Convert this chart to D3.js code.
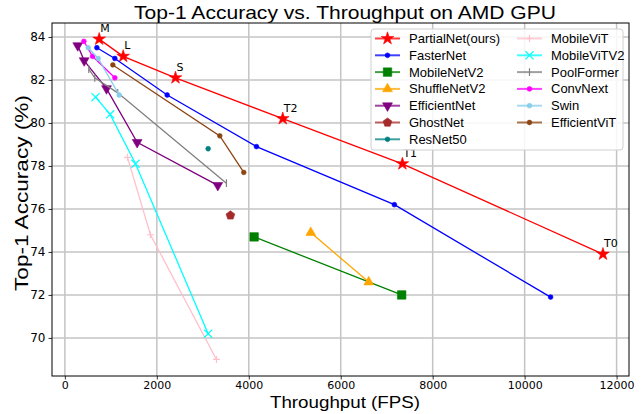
<!DOCTYPE html>
<html>
<head>
<meta charset="utf-8">
<script src="https://cdn.jsdelivr.net/npm/d3@7"></script>
<style>
  body { margin: 0; background: #fff; }
  svg { display: block; }
</style>
</head>
<body>
<script>
// values (throughput in FPS, top-1 accuracy in %)
const partialNetFps = [746, 1268, 2406, 4739, 7341, 11703];
const partialNetAcc = [83.9, 83.1, 82.1, 80.2, 78.1, 73.9];
const partialNetTags = ["M", "L", "S", "T2", "T1", "T0"];

const fasterNetFps = [696, 1087, 2225, 4167, 7167, 10565];
const fasterNetAcc = [83.5, 83.0, 81.3, 78.9, 76.2, 71.9];

const mobileNetV2Fps = [4116, 7326];
const mobileNetV2Acc = [74.7, 72.0];

const shuffleNetV2Fps = [5348, 6609];
const shuffleNetV2Acc = [74.9, 72.6];

const efficientNetFps = [280, 420, 906, 1572, 3326];
const efficientNetAcc = [83.6, 82.9, 81.6, 79.1, 77.1];

const ghostNetFps = [3601];
const ghostNetAcc = [75.7];

const resNet50Fps = [3116];
const resNet50Acc = [78.8];

const mobileViTFps = [1362, 1862, 3297];
const mobileViTAcc = [78.4, 74.8, 69.0];

const mobileViTV2Fps = [667, 985, 1536, 3116];
const mobileViTV2Acc = [81.2, 80.4, 78.1, 70.2];

const poolFormerFps = [520, 650, 1150, 3514];
const poolFormerAcc = [82.5, 82.1, 81.4, 77.2];

const convNextFps = [413, 602, 1087];
const convNextAcc = [83.8, 83.1, 82.1];

const swinFps = [507, 725, 1181];
const swinAcc = [83.5, 83.0, 81.3];

const efficientViTFps = [1043, 3370, 3891];
const efficientViTAcc = [82.7, 79.4, 77.7];

const xTicks = [0, 2000, 4000, 6000, 8000, 10000, 12000];
const yTicks = [70, 72, 74, 76, 78, 80, 82, 84];

const series = [
  { name: "PartialNet(ours)", fps: partialNetFps, acc: partialNetAcc, tags: partialNetTags },
  { name: "FasterNet", fps: fasterNetFps, acc: fasterNetAcc },
  { name: "MobileNetV2", fps: mobileNetV2Fps, acc: mobileNetV2Acc },
  { name: "ShuffleNetV2", fps: shuffleNetV2Fps, acc: shuffleNetV2Acc },
  { name: "EfficientNet", fps: efficientNetFps, acc: efficientNetAcc },
  { name: "GhostNet", fps: ghostNetFps, acc: ghostNetAcc },
  { name: "ResNet50", fps: resNet50Fps, acc: resNet50Acc },
  { name: "MobileViT", fps: mobileViTFps, acc: mobileViTAcc },
  { name: "MobileViTV2", fps: mobileViTV2Fps, acc: mobileViTV2Acc },
  { name: "PoolFormer", fps: poolFormerFps, acc: poolFormerAcc },
  { name: "ConvNext", fps: convNextFps, acc: convNextAcc },
  { name: "Swin", fps: swinFps, acc: swinAcc },
  { name: "EfficientViT", fps: efficientViTFps, acc: efficientViTAcc }
];

// look of each series, kept apart from the numbers
const looks = {
  "PartialNet(ours)": { color: "#ff0000", marker: "star" },
  "FasterNet": { color: "#0000ff", marker: "dot" },
  "MobileNetV2": { color: "#008000", marker: "square" },
  "ShuffleNetV2": { color: "#ffa500", marker: "up" },
  "EfficientNet": { color: "#800080", marker: "down" },
  "GhostNet": { color: "#a52a2a", marker: "pentagon" },
  "ResNet50": { color: "#008080", marker: "dot" },
  "MobileViT": { color: "#ffc0cb", marker: "plus" },
  "MobileViTV2": { color: "#00ffff", marker: "times" },
  "PoolFormer": { color: "#808080", marker: "vline" },
  "ConvNext": { color: "#ff00ff", marker: "dot" },
  "Swin": { color: "#87ceeb", marker: "dot" },
  "EfficientViT": { color: "#8b4513", marker: "dot" }
};

const W = 642, H = 414;
const m = { left: 52, right: 13, top: 23, bottom: 38 };

const svg = d3.select("body").append("svg")
  .attr("width", W)
  .attr("height", H)
  .style("font-family", "'DejaVu Sans', sans-serif");

const x = d3.scaleLinear().domain([-280, 12270]).range([m.left, W - m.right]);
const y = d3.scaleLinear().domain([68.23, 84.65]).range([H - m.bottom, m.top]);

// grid
svg.append("g").selectAll("line").data(xTicks).join("line")
  .attr("x1", d => x(d)).attr("x2", d => x(d))
  .attr("y1", m.top).attr("y2", H - m.bottom)
  .attr("stroke", "#c4c4c4").attr("stroke-width", 1.5);
svg.append("g").selectAll("line").data(yTicks).join("line")
  .attr("x1", m.left).attr("x2", W - m.right)
  .attr("y1", d => y(d)).attr("y2", d => y(d))
  .attr("stroke", "#c4c4c4").attr("stroke-width", 1.5);

// axes
const xAxis = svg.append("g")
  .attr("transform", `translate(0,${H - m.bottom})`)
  .call(d3.axisBottom(x).tickValues(xTicks).tickFormat(d3.format("d")).tickSizeOuter(0).tickSize(3.5).tickPadding(1.5));
const yAxis = svg.append("g")
  .attr("transform", `translate(${m.left},0)`)
  .call(d3.axisLeft(y).tickValues(yTicks).tickSizeOuter(0).tickSize(3.5).tickPadding(3));
[xAxis, yAxis].forEach(a => {
  a.select(".domain").remove();
  a.selectAll("text").attr("fill", "#000").style("font-family", "'DejaVu Sans', sans-serif");
  a.selectAll("line").attr("stroke", "#000").attr("stroke-width", 0.8);
});
xAxis.selectAll("text").attr("font-size", 11);
yAxis.selectAll("text").attr("font-size", 12);

// frame
svg.append("rect")
  .attr("x", m.left).attr("y", m.top)
  .attr("width", W - m.left - m.right).attr("height", H - m.top - m.bottom)
  .attr("fill", "none").attr("stroke", "#000").attr("stroke-width", 1);

// markers
const pentagon = {
  draw(ctx, size) {
    const r = Math.sqrt(size / 2.378);
    for (let i = 0; i < 5; i++) {
      const a = -Math.PI / 2 + i * 2 * Math.PI / 5;
      if (i === 0) ctx.moveTo(r * Math.cos(a), r * Math.sin(a));
      else ctx.lineTo(r * Math.cos(a), r * Math.sin(a));
    }
    ctx.closePath();
  }
};
const vline = {
  draw(ctx, size) {
    const h = Math.sqrt(size) / 2;
    ctx.moveTo(0, -h); ctx.lineTo(0, h);
  }
};

function drawMarker(g, kind, color, px, py, scale) {
  scale = scale || 1;
  let shape;
  let filled = true;
  if (kind === "star") shape = d3.symbol(d3.symbolStar, 50 * scale);
  else if (kind === "dot") shape = d3.symbol(d3.symbolCircle, 18 * scale);
  else if (kind === "square") shape = d3.symbol(d3.symbolSquare, 72 * scale);
  else if (kind === "up" || kind === "down") shape = d3.symbol(d3.symbolTriangle, 42 * scale);
  else if (kind === "pentagon") shape = d3.symbol(pentagon, 50 * scale);
  else if (kind === "plus") { shape = d3.symbol(d3.symbolPlus, 40 * scale); filled = false; }
  else if (kind === "times") { shape = d3.symbol(d3.symbolTimes, 45 * scale); filled = false; }
  else if (kind === "vline") { shape = d3.symbol(vline, 60 * scale); filled = false; }
  let shapePath;
  if (kind === "plus") {
    const h = 3.5 * Math.sqrt(scale);
    shapePath = `M${-h},0H${h}M0,${-h}V${h}`;
  } else shapePath = shape();
  g.append("path")
    .attr("d", shapePath)
    .attr("transform", `translate(${px},${py})` + (kind === "down" ? " rotate(180)" : ""))
    .attr("fill", filled ? color : "none")
    .attr("stroke", color)
    .attr("stroke-width", filled ? 0.6 : 1.2);
}

const line = d3.line().x(d => x(d[0])).y(d => y(d[1]));
const plot = svg.append("g");

series.forEach(s => {
  const look = looks[s.name];
  const pts = s.fps.map((f, i) => [f, s.acc[i]]);
  const g = plot.append("g");
  if (pts.length > 1) {
    g.append("path")
      .attr("d", line(pts))
      .attr("fill", "none")
      .attr("stroke", look.color)
      .attr("stroke-width", 1.3);
  }
  pts.forEach(p => drawMarker(g, look.marker, look.color, x(p[0]), y(p[1])));
  if (s.tags) {
    g.selectAll("text").data(pts).join("text")
      .attr("x", d => x(d[0]) + 1)
      .attr("y", d => y(d[1]) - 7)
      .attr("font-size", 11)
      .attr("fill", "#000")
      .text((d, i) => s.tags[i]);
  }
});

// legend
const lg = svg.append("g");
lg.append("rect")
  .attr("x", 371).attr("y", 29).attr("width", 252).attr("height", 121)
  .attr("rx", 3)
  .attr("fill", "#fff").attr("fill-opacity", 0.85)
  .attr("stroke", "#d0d0d0").attr("stroke-width", 1);
series.forEach((s, i) => {
  const look = looks[s.name];
  const col = i < 7 ? 0 : 1;
  const row = i < 7 ? i : i - 7;
  const lx = col === 0 ? 375 : 517;
  const ly = 38.5 + row * 16.8;
  lg.append("line")
    .attr("x1", lx).attr("x2", lx + 25)
    .attr("y1", ly).attr("y2", ly)
    .attr("stroke", look.color).attr("stroke-width", 2).attr("stroke-opacity", 0.75);
  drawMarker(lg, look.marker, look.color, lx + 12.5, ly, 1);
  lg.append("text")
    .attr("x", lx + 34).attr("y", ly + 4.5)
    .attr("font-size", 13)
    .style("font-family", "'Liberation Sans', Arial, sans-serif")
    .attr("fill", "#000")
    .text(s.name);
});

// titles
svg.append("text")
  .attr("x", 345).attr("y", 19)
  .attr("text-anchor", "middle")
  .attr("font-size", 19)
  .attr("textLength", 422).attr("lengthAdjust", "spacingAndGlyphs")
  .style("font-family", "'Liberation Sans', Arial, sans-serif")
  .text("Top-1 Accuracy vs. Throughput on AMD GPU");
svg.append("text")
  .attr("x", 345).attr("y", 408)
  .attr("text-anchor", "middle")
  .attr("font-size", 17)
  .attr("textLength", 150).attr("lengthAdjust", "spacingAndGlyphs")
  .style("font-family", "'Liberation Sans', Arial, sans-serif")
  .text("Throughput (FPS)");
svg.append("text")
  .attr("transform", "translate(28,193) rotate(-90)")
  .attr("text-anchor", "middle")
  .attr("font-size", 18)
  .attr("textLength", 196).attr("lengthAdjust", "spacingAndGlyphs")
  .style("font-family", "'Liberation Sans', Arial, sans-serif")
  .text("Top-1 Accuracy (%)");
</script>
</body>
</html>
